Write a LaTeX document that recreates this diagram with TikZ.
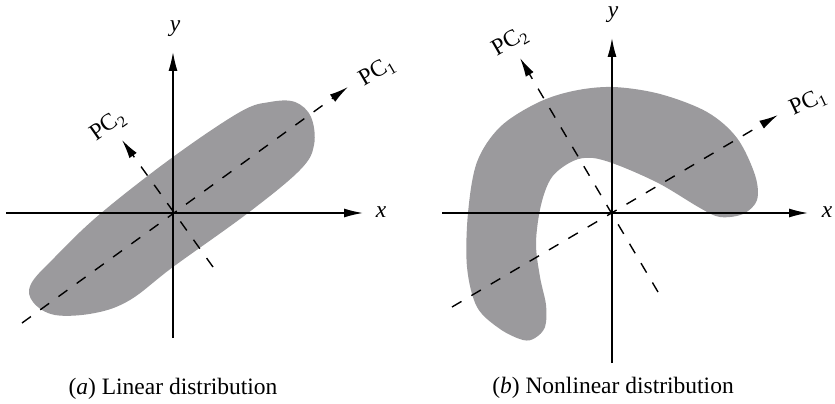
\documentclass[tikz,border=0pt]{standalone}
\usepackage{fontspec}
\setmainfont{Liberation Serif}
\usetikzlibrary{arrows.meta}
\definecolor{blobgray}{RGB}{155,154,157}
\newcommand{\pcsub}[1]{PC\raisebox{-0.4ex}{\fontsize{16}{16}\selectfont #1}}
\begin{document}
\begin{tikzpicture}[x=1pt,y=-1pt,
  axis/.style={line width=1.4pt,-{Latex[length=19pt,width=9pt]}},
  pcaxis/.style={line width=1.4pt,dash pattern=on 11pt off 11.5pt,-{Latex[length=19pt,width=9pt]}},
  lbl/.style={font=\fontsize{23.5}{26}\selectfont,inner sep=0pt},
  blob/.style={fill=blobgray,draw=none}]
\useasboundingbox (0,0) rectangle (835,404);
% ---------- (a) ----------
\fill[blob] plot[smooth cycle,tension=0.6] coordinates {
 (31,284) (55,257) (100,214) (173,157) (240,112) (270,102) (295,102)
 (311,117) (314,145) (300,170) (248,213) (173,267) (130,300) (95,313)
 (55,315) (33,302)};
\coordinate (Oa) at (173,213);
\coordinate (xa0) at (6,213);
\coordinate (xa1) at (363,213);
\coordinate (ya0) at (173,338);
\coordinate (ya1) at (173,52);
\coordinate (p1a0) at (22,323);
\coordinate (p1a1) at (348,87);
\coordinate (p2a0) at (213,267);
\coordinate (p2a1) at (122,140);
\draw[axis] (xa0) -- (xa1);
\draw[axis] (ya0) -- (ya1);
\draw[pcaxis] (p1a0) -- (p1a1);
\draw[pcaxis] (p2a0) -- (p2a1);
\node[lbl] (xla) at (381,212) {\textit{x}};
\node[lbl] (yla) at (175,29) {\textit{y}};
\node[lbl,rotate=30] (pc1a) at (377,72) {\pcsub{1}};
\node[lbl,rotate=35] (pc2a) at (108,126) {\pcsub{2}};
\node[lbl] (capa) at (173,389) {(\textit{a}) Linear distribution};
% ---------- (b) ----------
\fill[blob] plot[smooth cycle,tension=0.55] coordinates {
 (523,340) (500,329) (477,307) (467,267) (468,213) (477,162) (500,127)
 (537,103) (573,91) (613,87) (660,94) (707,112) (737,138) (755,175)
 (757,200) (743,214) (720,217) (700,208) (660,184) (620,166) (593,158)
 (573,161) (552,177) (541,205) (536,243) (540,277) (546,305) (545,327)
 (535,338)};
\coordinate (Ob) at (612,213);
\coordinate (xb0) at (442,213);
\coordinate (xb1) at (808,213);
\coordinate (yb0) at (612,363);
\coordinate (yb1) at (612,38);
\coordinate (p1b0) at (452,307);
\coordinate (p1b1) at (778,115);
\coordinate (p2b0) at (658,292);
\coordinate (p2b1) at (520,58);
\draw[axis] (xb0) -- (xb1);
\draw[axis] (yb0) -- (yb1);
\draw[pcaxis] (p1b0) -- (p1b1);
\draw[pcaxis] (p2b0) -- (p2b1);
\node[lbl] (xlb) at (827,212) {\textit{x}};
\node[lbl] (ylb) at (613,15) {\textit{y}};
\node[lbl,rotate=25] (pc1b) at (808,103) {\pcsub{1}};
\node[lbl,rotate=30] (pc2b) at (510,42) {\pcsub{2}};
\node[lbl] (capb) at (613,388) {(\textit{b}) Nonlinear distribution};
\end{tikzpicture}
\end{document}
